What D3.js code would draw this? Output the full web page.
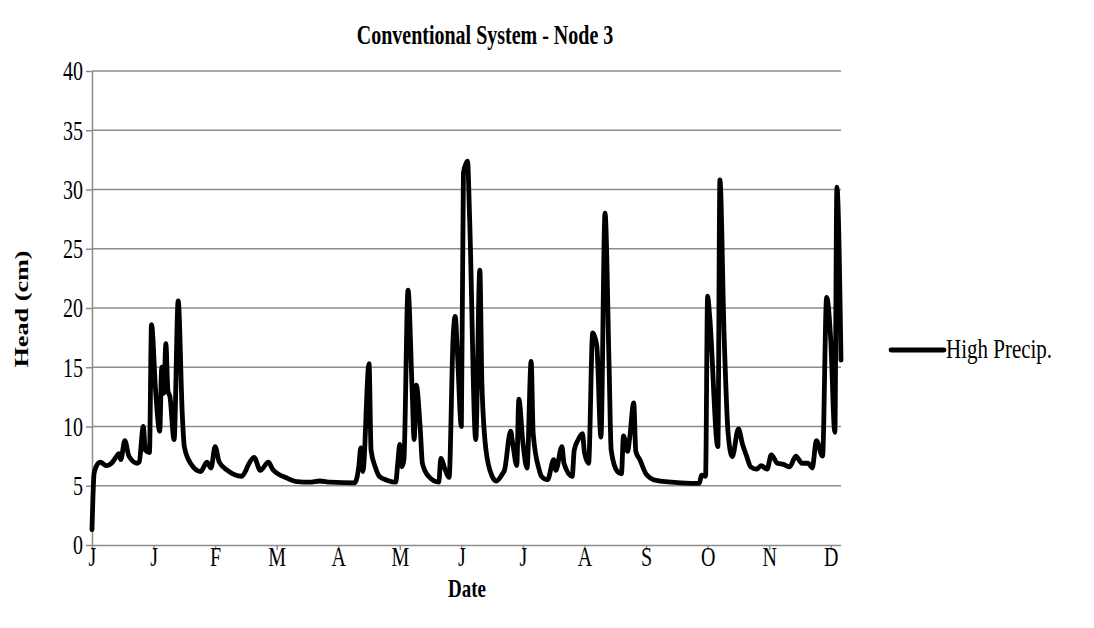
<!DOCTYPE html>
<html>
<head>
<meta charset="utf-8">
<script src="https://cdn.jsdelivr.net/npm/d3@7"></script>
<style>
  html, body { margin: 0; padding: 0; background: #fff; }
  svg { display: block; font-family: "Liberation Serif", "Times New Roman", serif; }
</style>
</head>
<body>
<svg id="chart" width="1094" height="628"></svg>
<script>
// ---- data (day of year in a leap year, head in cm) ----
const seriesName = "High Precip.";
const days = [0,1,2,4,7,10,12,13,14,16,18,22,23,25,26,28,29,31,33,34,35,36,37,38,40,42,44,45,48,53,56,58,60,62,66,73,75,76,79,82,86,88,95,100,106,111,116,128,130,131,132,135,136,138,140,144,148,149,150,151,152,154,156,157,158,160,161,164,169,170,172,174,176,177,178,180,181,183,184,187,189,190,192,195,197,200,201,204,205,207,208,210,212,214,215,218,219,222,225,226,229,230,234,235,237,239,240,242,244,246,248,250,252,253,256,258,259,261,262,264,265,267,270,275,287,296,297,299,300,301,305,306,308,310,312,315,317,319,321,324,326,329,331,334,337,340,343,346,349,351,353,356,358,360,362,363,365];
const head = [1.3,6.0,6.6,7.0,6.7,7.0,7.5,7.7,7.2,8.8,7.5,6.9,7.0,10.0,8.0,7.8,18.6,13.0,9.6,15.0,12.8,17.0,13.0,12.5,8.9,20.6,11.0,8.3,6.9,6.2,7.0,6.5,8.3,7.0,6.3,5.8,6.3,6.7,7.4,6.3,7.0,6.4,5.65,5.35,5.3,5.4,5.3,5.25,6.6,8.2,6.2,15.3,8.0,6.6,5.8,5.45,5.3,6.9,8.5,6.6,7.2,21.5,13.1,8.9,13.5,9.7,6.9,5.8,5.3,7.3,6.4,5.7,17.6,19.3,16.5,10.0,31.4,32.4,27.7,8.9,23.2,13.7,8.0,5.8,5.4,6.0,6.3,9.6,8.6,6.7,12.3,8.6,6.5,15.5,9.4,6.3,5.8,5.5,7.2,6.3,8.3,6.9,5.8,8.0,8.9,9.4,7.8,6.9,17.9,16.8,9.1,28.0,15.0,8.0,6.2,6.0,9.2,7.9,9.0,12.0,7.9,7.2,6.0,5.45,5.25,5.2,5.9,5.8,21.0,19.3,8.3,30.8,17.9,9.4,7.45,9.8,8.5,7.5,6.6,6.4,6.7,6.4,7.6,6.9,6.8,6.6,7.5,6.9,6.9,6.5,8.8,7.5,20.9,17.3,9.5,30.2,15.6];
const tickDays = [0,30,60,90,120,150,180,210,240,270,300,330,360];
const tickLabels = ["J","J","F","M","A","M","J","J","A","S","O","N","D"];
const yTicks = [0,5,10,15,20,25,30,35,40];
const lastDay = 365;

// ---- layout ----
const svg = d3.select("#chart");
const pL = 92, pR = 841, pT = 71, pB = 545;
const x = d3.scaleLinear().domain([0, lastDay]).range([pL, pR]);
const y = d3.scaleLinear().domain([0, 40]).range([pB, pT]);
const gridColor = "#8c8c8c";
const stretch = 1.33; // glyphs in the reference are taller than wide
const serif = "Liberation Serif, Times New Roman, serif";

// gridlines
svg.append("g")
  .selectAll("line").data(yTicks.filter(t => t > 0)).join("line")
  .attr("x1", pL).attr("x2", pR)
  .attr("y1", d => y(d)).attr("y2", d => y(d))
  .attr("stroke", gridColor).attr("stroke-width", 1.5);

// y axis
const yAxis = svg.append("g").attr("transform", `translate(${pL},0)`)
  .call(d3.axisLeft(y).tickValues(yTicks).tickSize(6).tickPadding(3));
yAxis.select(".domain").attr("stroke", gridColor).attr("stroke-width", 1.5)
  .attr("d", `M0.5,${pT}V${pB}`);
yAxis.selectAll(".tick line").attr("stroke", gridColor).attr("stroke-width", 1.5);
yAxis.selectAll(".tick text").attr("font-size", 20).attr("fill", "#000")
  .attr("font-family", serif)
  .attr("dy", "0.33em")
  .attr("transform", `scale(1,${stretch})`);

// x axis
const xAxis = svg.append("g").attr("transform", `translate(0,${pB})`)
  .call(d3.axisBottom(x).tickValues(tickDays).tickFormat((d, i) => tickLabels[i]).tickSize(5).tickPadding(2));
xAxis.select(".domain").attr("stroke", gridColor).attr("stroke-width", 1.5)
  .attr("d", `M${pL},0.5H${pR}`);
xAxis.selectAll(".tick line").attr("stroke", gridColor).attr("stroke-width", 1.5);
xAxis.selectAll(".tick text").attr("font-size", 20).attr("fill", "#000")
  .attr("font-family", serif)
  .attr("y", 0).attr("dy", null)
  .attr("transform", `translate(0,21) scale(1,${stretch})`);

// line
const line = d3.line()
  .x((d, i) => x(days[i]))
  .y((d, i) => y(head[i]))
  .curve(d3.curveMonotoneX);
svg.append("path")
  .attr("d", line(head))
  .attr("fill", "none")
  .attr("stroke", "#000")
  .attr("stroke-width", 4.8)
  .attr("stroke-linejoin", "round")
  .attr("stroke-linecap", "round");

// title
svg.append("text").attr("transform", `translate(485,44) scale(1,${stretch})`).attr("text-anchor", "middle")
  .attr("font-size", 20).attr("font-weight", "bold").text("Conventional System - Node 3");

// axis titles
svg.append("text").attr("transform", `translate(467,597) scale(1,${stretch})`).attr("text-anchor", "middle")
  .attr("font-size", 19).attr("font-weight", "bold").text("Date");
svg.append("text").attr("transform", `translate(28,309) rotate(-90) scale(1.38,1)`).attr("text-anchor", "middle")
  .attr("font-size", 19).attr("font-weight", "bold").text("Head (cm)");

// legend
svg.append("line").attr("x1", 891).attr("x2", 944).attr("y1", 350).attr("y2", 350)
  .attr("stroke", "#000").attr("stroke-width", 4.8).attr("stroke-linecap", "round");
svg.append("text").attr("transform", `translate(946,358) scale(1,1.3)`).attr("font-size", 21).text(seriesName);
</script>
</body>
</html>
